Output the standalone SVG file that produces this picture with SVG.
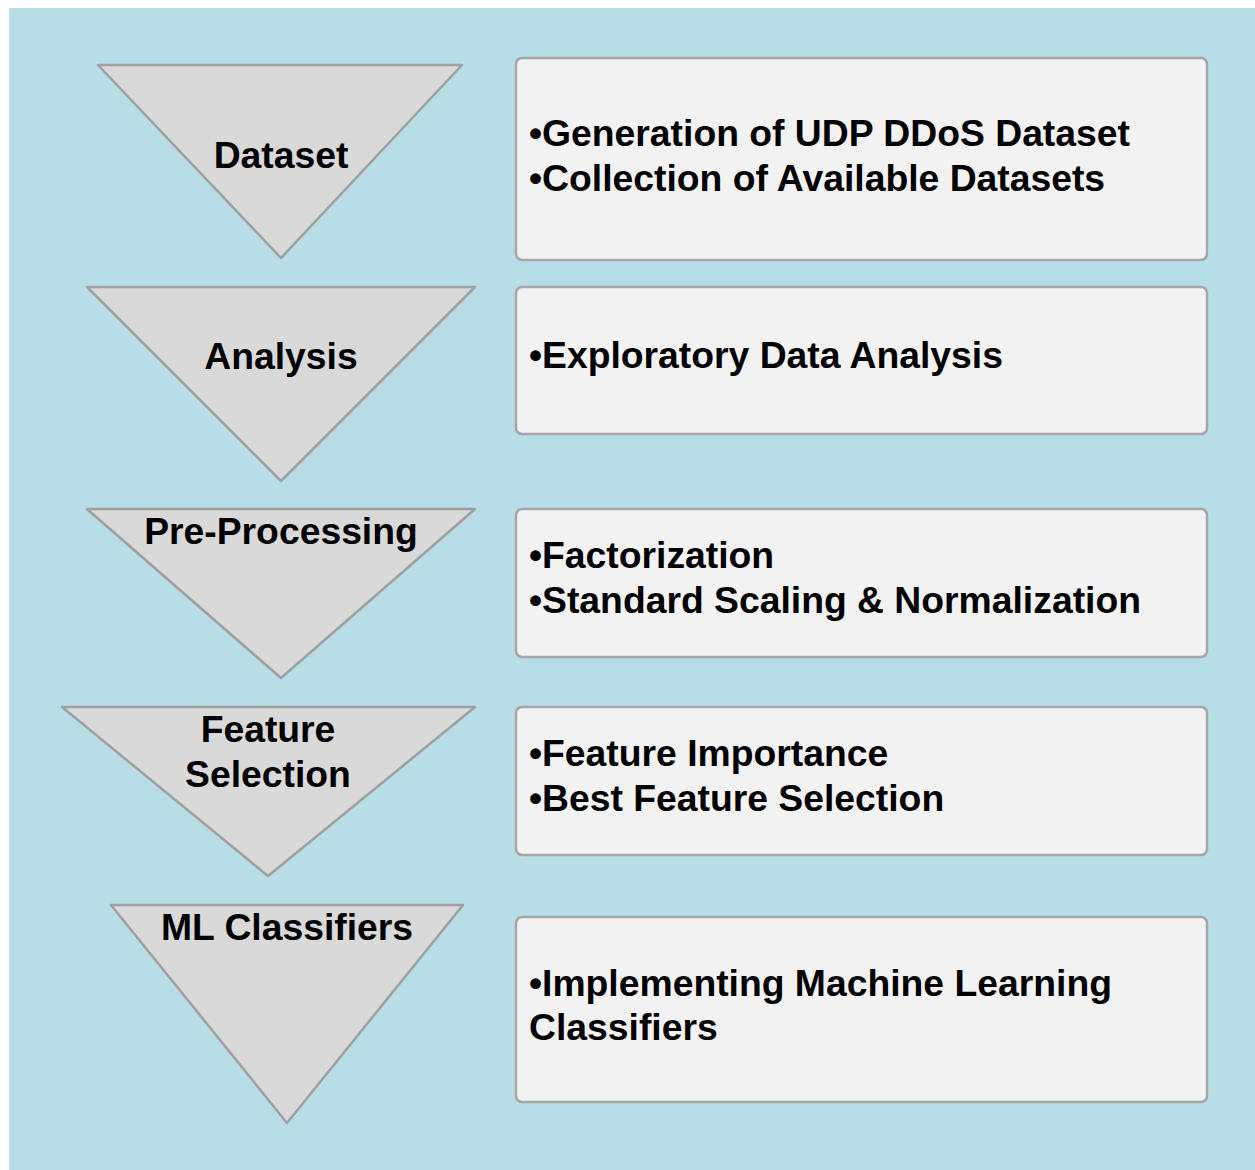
<svg xmlns="http://www.w3.org/2000/svg" width="1255" height="1170" viewBox="0 0 1255 1170">
<style>
.tri{fill:#d9d9d9;stroke:#a0a0a0;stroke-width:2.5;stroke-linejoin:round}
.box{fill:#f2f2f2;stroke:#a6a6a6;stroke-width:2.5}
text{font-family:"Liberation Sans",Arial,sans-serif;font-weight:bold;font-size:37.3px;fill:#000}
.c{text-anchor:middle}
</style>
<rect x="0" y="0" width="1255" height="1170" fill="#ffffff"/>
<rect x="9" y="8" width="1246" height="1162" fill="#b7dde7"/>
<g id="step-dataset">
<polygon class="tri" points="98,65 462,65 281,258"/>
<text class="c" x="281" y="168">Dataset</text>
</g>
<g id="desc-dataset">
<rect class="box" x="516" y="58" width="691" height="202" rx="6"/>
<text x="529" y="146">•Generation of UDP DDoS Dataset</text>
<text x="529" y="191">•Collection of Available Datasets</text>
</g>
<g id="step-analysis">
<polygon class="tri" points="87,287 475,287 281,481"/>
<text class="c" x="281" y="369">Analysis</text>
</g>
<g id="desc-analysis">
<rect class="box" x="516" y="287" width="691" height="147" rx="6"/>
<text x="529" y="368">•Exploratory Data Analysis</text>
</g>
<g id="step-preprocessing">
<polygon class="tri" points="87,509 475,509 281,678"/>
<text class="c" x="281" y="544">Pre-Processing</text>
</g>
<g id="desc-preprocessing">
<rect class="box" x="516" y="509" width="691" height="148" rx="6"/>
<text x="529" y="568">•Factorization</text>
<text x="529" y="613">•Standard Scaling &amp; Normalization</text>
</g>
<g id="step-feature">
<polygon class="tri" points="62,707 475,707 268,876"/>
<text class="c" x="268" y="742">Feature</text>
<text class="c" x="268" y="787">Selection</text>
</g>
<g id="desc-feature">
<rect class="box" x="516" y="707" width="691" height="148" rx="6"/>
<text x="529" y="766">•Feature Importance</text>
<text x="529" y="811">•Best Feature Selection</text>
</g>
<g id="step-ml">
<polygon class="tri" points="111,905 463,905 287,1123"/>
<text class="c" x="287" y="940">ML Classifiers</text>
</g>
<g id="desc-ml">
<rect class="box" x="516" y="917" width="691" height="185" rx="6"/>
<text x="529" y="996">•Implementing Machine Learning</text>
<text x="529" y="1040">Classifiers</text>
</g>
<g id="connectors"></g>
</svg>
